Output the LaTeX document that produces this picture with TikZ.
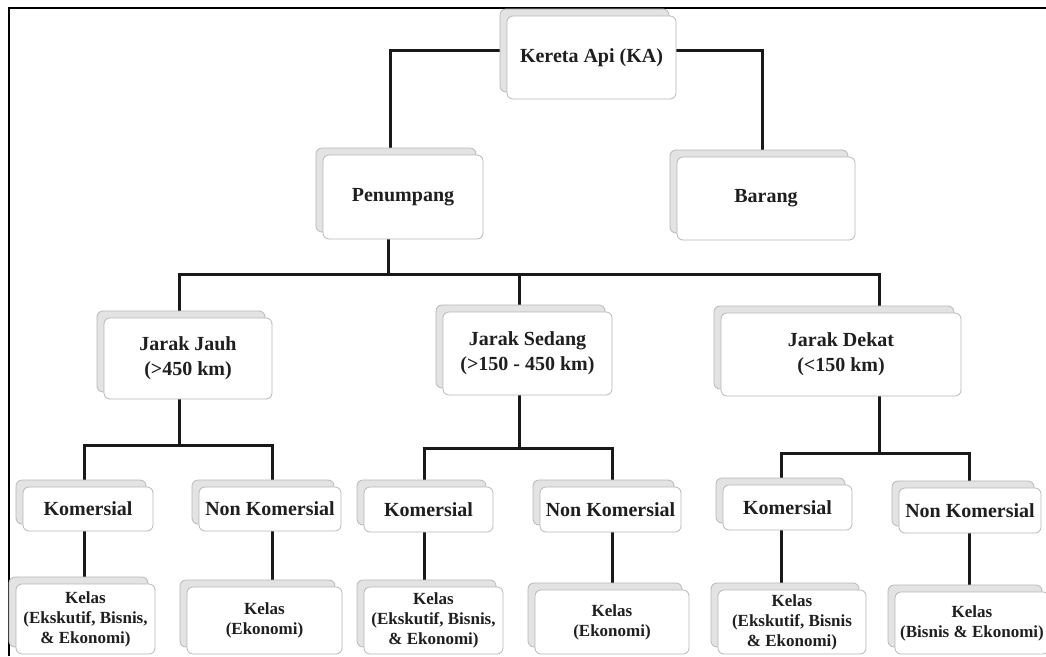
\documentclass[tikz,border=0pt]{standalone}
\usepackage{fontspec}
\setmainfont{Liberation Serif}
\usetikzlibrary{shadows,backgrounds}

\begin{document}
\begin{tikzpicture}[
    x=1pt, y=-1pt,
    box/.style={
        draw=black!28, line width=0.8pt, rounded corners=6pt, fill=white,
        align=center, inner sep=0pt, text=black!88,
        general shadow={shadow xshift=-7pt, shadow yshift=7pt,
                        fill=black!11, draw=black!28}
    },
    % big labels (levels 1-3) and small class labels
    bigbox/.style={box, font=\fontsize{20}{25}\selectfont\bfseries},
    kelas/.style={box, font=\fontsize{17}{20}\selectfont\bfseries},
    conn/.style={line width=3pt, black!90},
]
    \path[use as bounding box] (0,0) rectangle (1046,656);

    % frame lines (top and left)
    \draw[line width=2pt] (9,656) -- (9,8) -- (1046,8);

    % level 1 and 2
    \node[bigbox, minimum width=169, minimum height=83] (ka) at (591.5,57.5) {Kereta Api (KA)};
    \node[bigbox, minimum width=160, minimum height=84] (pen) at (403,197) {Penumpang};
    \node[bigbox, minimum width=178, minimum height=83] (bar) at (766,198.5) {Barang};

    % level 3: distance
    \node[bigbox, minimum width=168, minimum height=81] (jauh) at (188,358.5) {Jarak Jauh\\(>450 km)};
    \node[bigbox, minimum width=169, minimum height=83] (sedang) at (527.5,353.5) {Jarak Sedang\\(>150 - 450 km)};
    \node[bigbox, minimum width=240, minimum height=83] (dekat) at (841,354.5) {Jarak Dekat\\(<150 km)};

    % level 4: komersial / non komersial
    \node[bigbox, minimum width=130, minimum height=44] (k1) at (88,509) {Komersial};
    \node[bigbox, minimum width=142, minimum height=44] (nk1) at (270,509) {Non Komersial};
    \node[bigbox, minimum width=129, minimum height=45] (k2) at (428.5,509.5) {Komersial};
    \node[bigbox, minimum width=141, minimum height=45] (nk2) at (610.5,509.5) {Non Komersial};
    \node[bigbox, minimum width=129, minimum height=45] (k3) at (787.5,507.5) {Komersial};
    \node[bigbox, minimum width=142, minimum height=45] (nk3) at (970,510.5) {Non Komersial};

    % level 5: kelas
    \node[kelas, minimum width=139, minimum height=70] (e1) at (85.5,619) {Kelas\\(Ekskutif, Bisnis,\\\& Ekonomi)};
    \node[kelas, minimum width=155, minimum height=67] (ek1) at (264.5,620.5) {Kelas\\(Ekonomi)};
    \node[kelas, minimum width=139, minimum height=67] (e2) at (433.5,620.5) {Kelas\\(Ekskutif, Bisnis,\\\& Ekonomi)};
    \node[kelas, minimum width=154, minimum height=64] (ek2) at (612,622) {Kelas\\(Ekonomi)};
    \node[kelas, minimum width=148, minimum height=64] (e3) at (792,622) {Kelas\\(Ekskutif, Bisnis\\\& Ekonomi)};
    \node[kelas, minimum width=154, minimum height=62] (ek3) at (972,623) {Kelas\\(Bisnis \& Ekonomi)};

    \begin{scope}[on background layer]
        \fill[white] (0,0) rectangle (1046,656);

        % top tree
        \draw[conn] ([yshift=7.5]ka.west) -| ([xshift=-13]pen.north);
        \draw[conn] ([yshift=7.5]ka.east) -| ([xshift=-4]bar.north);
        \draw[conn] ([xshift=-15]pen.south) -- ++(0,35) coordinate (tp);
        \draw[conn] ([xshift=-9]jauh.north) |- (tp) -| ([xshift=38]dekat.north);
        \draw[conn] ([xshift=-8.5]sedang.north) -- ([xshift=-8.5]sedang.north |- tp);

        % one T per distance group
        \foreach \p/\ps/\d/\k/\ks/\n/\ns in {jauh/-9/46/k1/-4/nk1/2,
                sedang/-8.5/53/k2/-4.5/nk2/1.5, dekat/38/57/k3/-6.5/nk3/-1}{
            \draw[conn] ([xshift=\ps]\p.south) -- ++(0,\d) coordinate (t\p);
            \draw[conn] ([xshift=\ks]\k.north) |- (t\p) -| ([xshift=\ns]\n.north);
        }

        % down to kelas
        \foreach \a/\b/\s in {k1/e1/-4, nk1/ek1/2, k2/e2/-4.5, nk2/ek2/1.5, k3/e3/-6.5, nk3/ek3/-1}
            \draw[conn] ([xshift=\s]\a.south) -- ([xshift=\s]\a.south |- \b.north);
    \end{scope}
\end{tikzpicture}
\end{document}
